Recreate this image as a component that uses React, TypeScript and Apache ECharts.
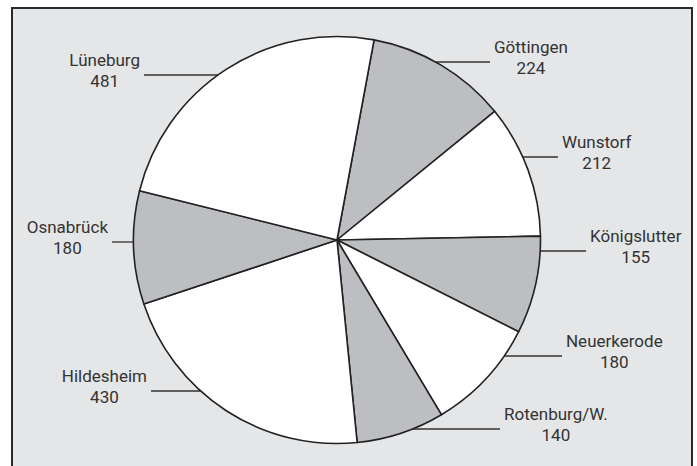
import React, { useEffect, useRef } from "react";
import * as echarts from "echarts";

// ---- data ----
const categories = [
  "Göttingen",
  "Wunstorf",
  "Königslutter",
  "Neuerkerode",
  "Rotenburg/W.",
  "Hildesheim",
  "Osnabrück",
  "Lüneburg",
];
const values = [224, 212, 155, 180, 140, 430, 180, 481];

// ---- layout / style ----
const WHITE = "#ffffff";
const GRAY = "#bdbec1";
const sliceColors = [GRAY, WHITE, GRAY, WHITE, GRAY, WHITE, GRAY, WHITE];
const CX = 337;
const CY = 240;
const R = 203.5;
// y of each label's leader line, and x where it ends (away from the pie)
const leaderY = [62, 157, 251, 356, 429, 391, 242, 75];
const leaderEndX = [490, 558, 586, 562, 500, 151, 112, 144];

const FONT = 'Roboto, "Liberation Sans", sans-serif';

export default function App() {
  const ref = useRef<HTMLDivElement>(null);
  useEffect(() => {
    if (!ref.current) return;
    const chart = echarts.init(ref.current, null, { renderer: "svg" });
    chart.setOption({
      animation: false,
      graphic: [
        {
          type: "rect",
          shape: { x: 12, y: 8, width: 680, height: 490 },
          style: { fill: "#e5e6e7", stroke: "#2a2a2a", lineWidth: 2 },
          z: 0,
        },
      ],
      series: [
        {
          type: "pie",
          center: [CX, CY],
          radius: R,
          startAngle: 79.5,
          clockwise: true,
          avoidLabelOverlap: false,
          data: categories.map((name, i) => ({
            name,
            value: values[i],
            itemStyle: { color: sliceColors[i] },
          })),
          itemStyle: { borderColor: "#222222", borderWidth: 1.6 },
          emphasis: { disabled: true },
          label: {
            show: true,
            position: "outside",
            formatter: "{b}\n{c}",
            color: "#333333",
            fontFamily: FONT,
            fontSize: 17,
            lineHeight: 21,
          },
          labelLine: {
            show: true,
            length: 0,
            length2: 10,
            lineStyle: { color: "#333333", width: 1.3 },
          },
          labelLayout: (params: any) => {
            const i = params.dataIndex;
            const y = leaderY[i];
            const dy = y - CY;
            const dx = Math.sqrt(Math.max(R * R - dy * dy, 0));
            const ex = leaderEndX[i];
            const right = ex > CX;
            const sx = right ? CX + dx : CX - dx;
            const w = params.labelRect.width;
            return {
              x: right ? ex + 4 + w / 2 : ex - 4 - w / 2,
              y: y - 5,
              align: "center",
              verticalAlign: "middle",
              labelLinePoints: [
                [sx, y],
                [ex, y],
                [ex, y],
              ],
            };
          },
        },
      ],
    });
    return () => chart.dispose();
  }, []);
  return (
    <div
      ref={ref}
      style={{ position: "absolute", left: 0, top: 0, width: 697, height: 466 }}
    />
  );
}
